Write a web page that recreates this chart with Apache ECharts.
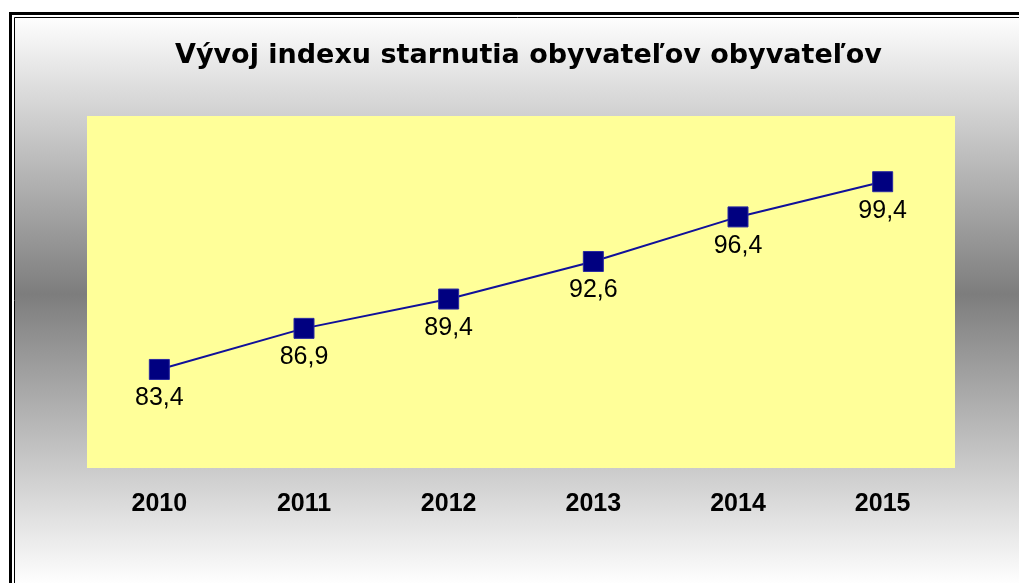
<!DOCTYPE html>
<html lang="sk">
<head>
    <meta charset="UTF-8">
    <title>Vývoj indexu starnutia</title>
    <script src="https://cdn.jsdelivr.net/npm/echarts@6/dist/echarts.min.js"></script>
    <style>
        html, body { margin: 0; padding: 0; background: #fff; }
        #main { width: 1019px; height: 583px; }
    </style>
</head>
<body>
<div id="main"></div>
<script>
    // data
    var roky = ['2010', '2011', '2012', '2013', '2014', '2015'];
    var index = [83.4, 86.9, 89.4, 92.6, 96.4, 99.4];

    var myChart = echarts.init(document.getElementById('main'));

    var option = {
        animation: false,
        graphic: [
            // sivy prechod v ramceku
            {
                type: 'rect', z: -10, silent: true,
                shape: { x: 15, y: 15, width: 1010, height: 570 },
                style: {
                    fill: new echarts.graphic.LinearGradient(0, 0, 0, 1, [
                        { offset: 0, color: '#ffffff' },
                        { offset: 0.49, color: '#7d7d7d' },
                        { offset: 1, color: '#ffffff' }
                    ])
                }
            },
            // dvojity ramcek
            {
                type: 'rect', z: -9, silent: true,
                shape: { x: 10.5, y: 13.5, width: 1020, height: 580 },
                style: { fill: 'none', stroke: '#000', lineWidth: 3 }
            },
            {
                type: 'rect', z: -9, silent: true,
                shape: { x: 14.5, y: 17.5, width: 1020, height: 580 },
                style: { fill: 'none', stroke: '#000', lineWidth: 1 }
            }
        ],
        title: {
            text: 'Vývoj indexu starnutia obyvateľov obyvateľov',
            left: 170,
            top: 37,
            textStyle: {
                fontFamily: 'DejaVu Sans',
                fontSize: 27,
                fontWeight: 'bold',
                color: '#000'
            }
        },
        grid: {
            left: 87,
            right: 64,
            top: 116,
            bottom: 115,
            show: true,
            backgroundColor: '#ffff99',
            borderWidth: 0
        },
        xAxis: {
            type: 'category',
            data: roky,
            axisLine: { show: false },
            axisTick: { show: false },
            axisLabel: {
                margin: 24,
                fontFamily: 'Liberation Sans',
                fontSize: 25,
                fontWeight: 'bold',
                color: '#000'
            }
        },
        yAxis: {
            type: 'value',
            min: 75,
            max: 105,
            show: false,
            splitLine: { show: false }
        },
        series: [{
            type: 'line',
            data: index,
            symbol: 'rect',
            symbolSize: 20,
            lineStyle: { color: '#10109a', width: 2 },
            itemStyle: { color: '#000080', borderColor: '#2a2aa0', borderWidth: 1 },
            label: {
                show: true,
                position: 'bottom',
                distance: 6,
                fontFamily: 'Liberation Sans',
                fontSize: 25,
                color: '#000',
                formatter: function (p) {
                    return p.value.toFixed(1).replace('.', ',');
                }
            }
        }]
    };

    myChart.setOption(option);
</script>
</body>
</html>
